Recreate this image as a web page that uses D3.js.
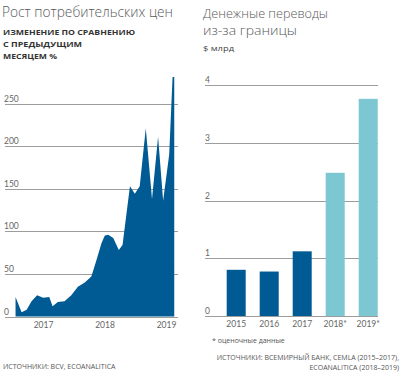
<!DOCTYPE html>
<html>
<head>
<meta charset="utf-8">
<script src="https://cdn.jsdelivr.net/npm/d3@7"></script>
<style>
  body { margin: 0; background: #fff; }
  svg { display: block; font-family: "Open Sans", "Noto Sans", sans-serif; }
  .grid line { stroke: #9d9d9d; stroke-width: 1; }
  .tick-label { fill: #666; font-size: 8.5px; font-family: Lato, "Open Sans", sans-serif; }
</style>
</head>
<body>
<div id="container"><svg width="404" height="380"></svg></div>
<script>
'use strict';

// CPI month-on-month change, %
var cpiDates = ['2016-07-22', '2016-08-27', '2016-09-26', '2016-10-25', '2016-11-27', '2017-01-02',
  '2017-02-07', '2017-02-27', '2017-03-30', '2017-05-09', '2017-06-18', '2017-07-27', '2017-09-06',
  '2017-10-15', '2017-11-14', '2017-12-14', '2018-01-03', '2018-01-23', '2018-02-22', '2018-03-27',
  '2018-04-18', '2018-06-01', '2018-06-30', '2018-07-29', '2018-09-03', '2018-10-10', '2018-11-15',
  '2018-12-15', '2019-01-20', '2019-02-09', '2019-02-19'];
var cpiValues = [23, 5, 8, 18, 25, 22, 23, 12, 17, 18, 25, 35, 40, 47, 66, 86, 95, 96, 92, 78,
  84, 153, 144, 153, 221, 138, 211, 136, 190, 281, 281];
var cpiTicks = [0, 50, 100, 150, 200, 250];
var cpiYears = ['2017-01-01', '2018-01-01', '2019-01-01'];

// remittances, $ bn
var remitYears = ['2015', '2016', '2017', '2018*', '2019*'];
var remitValues = [0.8, 0.77, 1.12, 2.48, 3.76];
var remitEstimated = [false, false, false, true, true];
var remitTicks = [0, 1, 2, 3, 4];

var svg = d3.select('svg');
var parse = d3.timeParse('%Y-%m-%d');

var darkBlue = '#005b94';
var lightBlue = '#7cc7d1';
var titleColor = '#58595b';

// ---- titles (one text element, one tspan per line)
function textLines(x, ys, lines, size, weight, color, anchor, widths) {
  var el = svg.append('text')
    .style('font-size', size + 'px').style('font-weight', weight)
    .style('fill', color).attr('text-anchor', anchor || 'start');
  lines.forEach(function (t, i) {
    var ts = el.append('tspan').attr('x', x).attr('y', ys[i]).text(t);
    if (widths) ts.attr('textLength', widths[i]).attr('lengthAdjust', 'spacingAndGlyphs');
  });
}

textLines(2, [17], ['Рост потребительских цен'], 14.5, 300, titleColor, 'start', [171]);
textLines(3, [35, 47, 59], ['ИЗМЕНЕНИЕ ПО СРАВНЕНИЮ', 'С ПРЕДЫДУЩИМ', 'МЕСЯЦЕМ %'], 7.8, 700, '#333', 'start', [132, 79, 54]);
textLines(203, [17.5], ['Денежные переводы'], 13.5, 300, titleColor, 'start', [125]);
textLines(203, [35.3], ['из-за границы'], 13.5, 300, titleColor, 'start', [94]);
textLines(203, [51], ['$ млрд'], 8, 400, '#444', 'start', [31]);

// ---- left chart: area
var cpi = cpiDates.map(function (d, i) { return { date: parse(d), value: cpiValues[i] }; });

var x1 = d3.scaleTime()
  .domain([parse('2017-01-01'), parse('2019-01-01')])
  .range([43, 166]);
var y1 = d3.scaleLinear().domain([0, 250]).range([316.5, 103.5]);

var grid1 = svg.append('g').attr('class', 'grid');
grid1.selectAll('line').data(cpiTicks).enter().append('line')
  .attr('x1', 5).attr('x2', 178)
  .attr('y1', function (d) { return Math.round(y1(d)) + 0.5; })
  .attr('y2', function (d) { return Math.round(y1(d)) + 0.5; });

svg.append('g').selectAll('text').data(cpiTicks).enter().append('text')
  .attr('class', 'tick-label')
  .attr('x', 4)
  .attr('y', function (d) { return y1(d) - 2; })
  .text(function (d) { return d; });

var area = d3.area()
  .x(function (d) { return x1(d.date); })
  .y0(y1(0))
  .y1(function (d) { return y1(d.value); });

svg.append('path').datum(cpi)
  .attr('d', area)
  .attr('fill', darkBlue);

var xAxis1 = svg.append('g')
  .attr('transform', 'translate(0,' + y1(0) + ')')
  .call(d3.axisBottom(x1).tickValues(cpiYears.map(parse)).tickSize(0).tickPadding(5)
    .tickFormat(d3.timeFormat('%Y')));
xAxis1.select('.domain').remove();
xAxis1.attr('font-family', null).attr('font-size', null);
xAxis1.selectAll('text').attr('class', 'tick-label').attr('fill', null);

// ---- right chart: bars
var x2 = d3.scaleBand().domain(remitYears).range([219.7, 384.7])
  .paddingInner(0.424).paddingOuter(0.212);
var y2 = d3.scaleLinear().domain([0, 4]).range([316, 85]);

var grid2 = svg.append('g').attr('class', 'grid');
grid2.selectAll('line').data(remitTicks).enter().append('line')
  .attr('x1', 205).attr('x2', 378)
  .attr('y1', function (d) { return Math.round(y2(d)) + 0.5; })
  .attr('y2', function (d) { return Math.round(y2(d)) + 0.5; });

svg.append('g').selectAll('text').data(remitTicks).enter().append('text')
  .attr('class', 'tick-label')
  .attr('x', 205)
  .attr('y', function (d) { return y2(d) - 2; })
  .text(function (d) { return d; });

svg.append('g').selectAll('rect').data(remitYears).enter().append('rect')
  .attr('x', function (d) { return x2(d); })
  .attr('width', x2.bandwidth())
  .attr('y', function (d, i) { return y2(remitValues[i]); })
  .attr('height', function (d, i) { return y2(0) - y2(remitValues[i]); })
  .attr('fill', function (d, i) { return remitEstimated[i] ? lightBlue : darkBlue; });

var xAxis2 = svg.append('g')
  .attr('transform', 'translate(0,' + y2(0) + ')')
  .call(d3.axisBottom(x2).tickSize(0).tickPadding(5));
xAxis2.select('.domain').remove();
xAxis2.attr('font-family', null).attr('font-size', null);
xAxis2.selectAll('text').attr('class', 'tick-label').attr('fill', null);

// ---- footnotes
textLines(3, [369], ['ИСТОЧНИКИ: BCV, ECOANALITICA'], 7, 400, '#555');
textLines(212, [343], ['* оценочные данные'], 7, 400, '#555');
textLines(399, [360, 370], ['ИСТОЧНИКИ: ВСЕМИРНЫЙ БАНК, CEMLA (2015–2017),', 'ECOANALITICA (2018–2019)'], 7, 400, '#555', 'end');
</script>
</body>
</html>
